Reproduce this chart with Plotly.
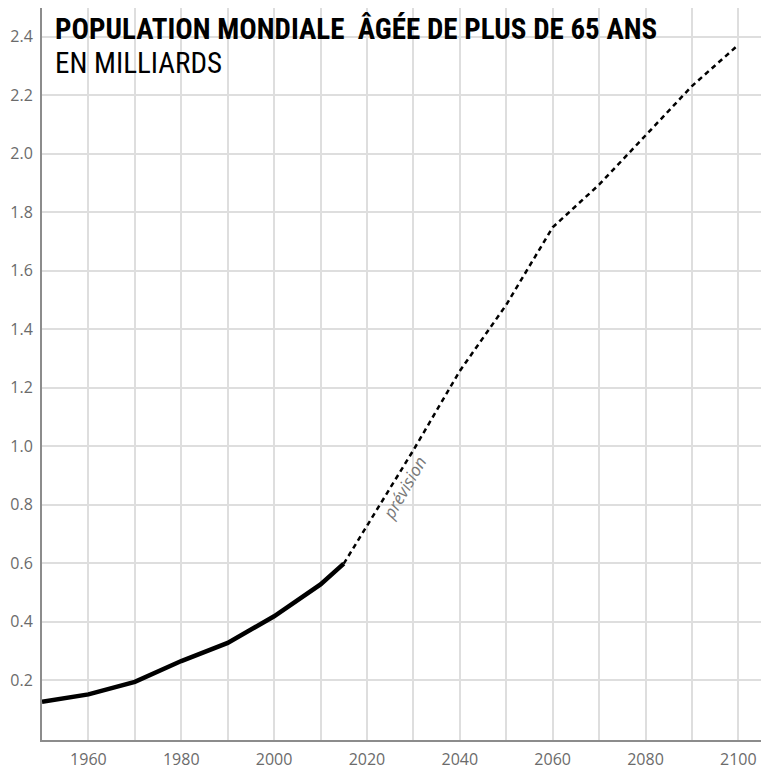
import plotly.graph_objects as go

# Historical values (billions)
hist_years = [1950, 1960, 1970, 1980, 1990, 2000, 2010, 2015]
hist_values = [0.126, 0.151, 0.194, 0.265, 0.327, 0.418, 0.527, 0.598]

# Projection (billions)
proj_years = [2015, 2020, 2030, 2040, 2050, 2060, 2070, 2080, 2090, 2100]
proj_values = [0.598, 0.727, 0.986, 1.257, 1.483, 1.748, 1.894, 2.062, 2.231, 2.372]

y_ticks = [0.2, 0.4, 0.6, 0.8, 1.0, 1.2, 1.4, 1.6, 1.8, 2.0, 2.2, 2.4]
x_ticks = [1960, 1980, 2000, 2020, 2040, 2060, 2080, 2100]

title_text = "POPULATION MONDIALE\u00a0 ÂGÉE DE PLUS DE 65 ANS"
subtitle_text = "EN MILLIARDS"
note_text = "prévision"

fig = go.Figure()
fig.add_trace(go.Scatter(x=proj_years, y=proj_values, mode="lines",
                         line=dict(color="black", width=2.5, dash="5px,4px"),
                         hoverinfo="skip", showlegend=False))
fig.add_trace(go.Scatter(x=hist_years, y=hist_values, mode="lines",
                         line=dict(color="black", width=4.5),
                         hoverinfo="skip", showlegend=False))

tick_font = dict(family="Open Sans, Noto Sans, sans-serif", size=16, color="#6b6b6b")

# The page body has an 8px default margin, so the figure is sized to fit the window.
fig.update_layout(
    width=761, height=763,
    margin=dict(l=34, r=0, t=0, b=31),
    paper_bgcolor="white", plot_bgcolor="white",
    xaxis=dict(range=[1950, 2106.6], tickvals=x_ticks, ticktext=[str(v) for v in x_ticks],
               showgrid=True, gridcolor="#dedede", gridwidth=1.5,
               minor=dict(dtick=10, tick0=1950, showgrid=True, gridcolor="#dedede", gridwidth=1.5),
               showline=True, linecolor="#8c8c8c", linewidth=2,
               ticks="outside", ticklen=4, tickcolor="rgba(0,0,0,0)",
               tickfont=tick_font, zeroline=False, fixedrange=True, automargin=False),
    yaxis=dict(range=[-0.005, 2.498], tickvals=y_ticks, ticktext=[f"{v:.1f}" for v in y_ticks],
               showgrid=True, gridcolor="#dedede", gridwidth=1.5,
               showline=True, linecolor="#8c8c8c", linewidth=2,
               ticks="outside", ticklen=4, tickcolor="rgba(0,0,0,0)",
               tickfont=tick_font, zeroline=False, fixedrange=True, automargin=False),
    shapes=[dict(type="rect", xref="paper", yref="paper",
                 x0=0.003, x1=(679 - 42) / 727, y0=(740 - 91) / 732, y1=1.0,
                 fillcolor="white", line=dict(width=0), layer="between")],
    annotations=[
        dict(text=title_text, xref="paper", yref="paper",
             x=(53 - 42) / 727, y=(740 - 29) / 732, xanchor="left", yanchor="middle",
             showarrow=False,
             font=dict(family="Liberation Sans Narrow, Roboto Condensed, Roboto, sans-serif",
                       size=29, color="black", weight="bold")),
        dict(text=subtitle_text, xref="paper", yref="paper",
             x=(53 - 42) / 727, y=(740 - 63) / 732, xanchor="left", yanchor="middle",
             showarrow=False,
             font=dict(family="Liberation Sans Narrow, Roboto Condensed, Roboto, sans-serif",
                       size=29, color="black")),
        dict(text="<i>" + note_text + "</i>", x=2028.1, y=0.857, xref="x", yref="y",
             showarrow=False, textangle=-60,
             font=dict(family="Open Sans, Noto Sans, sans-serif", size=17, color="#777777")),
    ],
)

fig.write_html("out.html")
